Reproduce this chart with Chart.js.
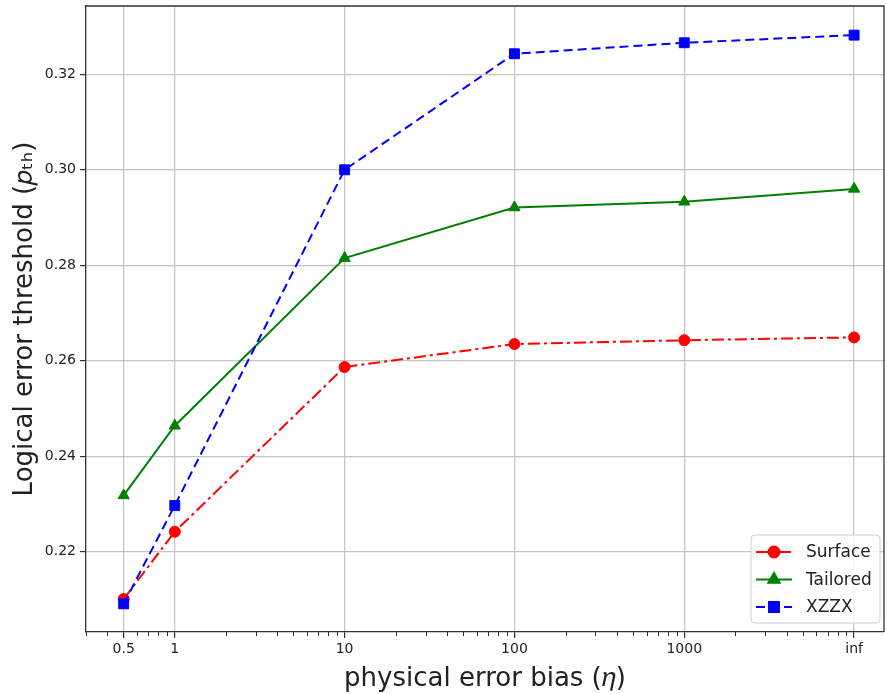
<!DOCTYPE html>
<html lang="en">
<head>
<meta charset="UTF-8" />
<title>Logical error threshold vs physical error bias</title>
<script src="https://cdn.jsdelivr.net/npm/chart.js"></script>
<style>
  body { margin: 0; background: #fff; }
  #wrap { width: 887px; height: 694px; position: relative; }
</style>
</head>
<body>
<div id="wrap"><canvas id="chart"></canvas></div>
<script>
// data
const biasLabels = ['0.5', '1', '10', '100', '1000', 'inf'];
const biasValues = [0.5, 1, 10, 100, 1000, 10000]; // "inf" is drawn one decade after 1000
const surface  = [0.2101, 0.2242, 0.2587, 0.2635, 0.2643, 0.2649];
const tailored = [0.2318, 0.2464, 0.2815, 0.2921, 0.2933, 0.2960];
const xzzx     = [0.2091, 0.2297, 0.3000, 0.3243, 0.3266, 0.3282];
const yTicks   = [0.22, 0.24, 0.26, 0.28, 0.30, 0.32];

const FONT = "'DejaVu Sans', sans-serif";
const TEXT = '#222';

function pts(vals) {
  return vals.map((v, i) => ({ x: biasValues[i], y: v }));
}

// small ticks between the decades on the log axis
const minorTicks = {
  id: 'minorTicks',
  afterDraw(chart) {
    const xs = chart.scales.x, ctx = chart.ctx;
    const y0 = chart.chartArea.bottom;
    ctx.save();
    ctx.strokeStyle = '#333';
    ctx.lineWidth = 1;
    for (let d = -1; d <= 4; d++) {
      for (let m = 2; m <= 9; m++) {
        const v = m * Math.pow(10, d);
        if (v < xs.min || v > xs.max || biasValues.includes(v)) continue;
        const px = Math.round(xs.getPixelForValue(v)) + 0.5;
        ctx.beginPath();
        ctx.moveTo(px, y0);
        ctx.lineTo(px, y0 + 4);
        ctx.stroke();
      }
    }
    ctx.restore();
  }
};

// top and right spines
const frame = {
  id: 'frame',
  afterDraw(chart) {
    const { left, right, top, bottom } = chart.chartArea;
    const ctx = chart.ctx;
    ctx.save();
    ctx.strokeStyle = '#333';
    ctx.lineWidth = 1.3;
    ctx.beginPath();
    ctx.moveTo(left, top);
    ctx.lineTo(right, top);
    ctx.lineTo(right, bottom);
    ctx.stroke();
    ctx.restore();
  }
};

// matplotlib style legend: line + marker, lower right
const legendBox = {
  id: 'legendBox',
  afterDraw(chart) {
    const ctx = chart.ctx;
    const ca = chart.chartArea;
    const w = 129, h = 88;
    const x = ca.right - 4 - w, y = ca.bottom - 9 - h;
    ctx.save();
    ctx.beginPath();
    ctx.roundRect(x, y, w, h, 4);
    ctx.fillStyle = 'rgba(255,255,255,0.85)';
    ctx.fill();
    ctx.strokeStyle = '#d0d0d0';
    ctx.lineWidth = 1;
    ctx.stroke();
    chart.data.datasets.forEach((ds, i) => {
      const ry = y + 17 + i * 27.5;
      ctx.strokeStyle = ds.borderColor;
      ctx.lineWidth = ds.borderWidth;
      ctx.setLineDash(ds.borderDash || []);
      ctx.beginPath();
      ctx.moveTo(x + 5, ry);
      ctx.lineTo(x + 41, ry);
      ctx.stroke();
      ctx.setLineDash([]);
      ctx.fillStyle = ds.backgroundColor;
      Chart.helpers.drawPoint(ctx, { pointStyle: ds.pointStyle, radius: ds.pointRadius, borderWidth: 1 }, x + 23, ry);
      ctx.fill();
      ctx.fillStyle = TEXT;
      ctx.font = '17px ' + FONT;
      ctx.textBaseline = 'middle';
      ctx.fillText(ds.label, x + 55, ry + 1);
    });
    ctx.restore();
  }
};

const isMajorX = v => biasValues.includes(v);

new Chart(document.getElementById('chart'), {
  type: 'line',
  data: {
    datasets: [
      {
        label: 'Surface', data: pts(surface), order: 3,
        borderColor: '#ff0000', backgroundColor: '#ff0000', borderWidth: 2,
        borderDash: [12, 4, 3, 4], pointStyle: 'circle', pointRadius: 5.5,
        pointBorderWidth: 1
      },
      {
        label: 'Tailored', data: pts(tailored), order: 2,
        borderColor: '#008000', backgroundColor: '#008000', borderWidth: 2,
        pointStyle: 'triangle', pointRadius: 6.5, pointBorderWidth: 1
      },
      {
        label: 'XZZX', data: pts(xzzx), order: 1,
        borderColor: '#0000ff', backgroundColor: '#0000ff', borderWidth: 2,
        borderDash: [9, 5], pointStyle: 'rect', pointRadius: 7, pointBorderWidth: 1
      }
    ]
  },
  options: {
    responsive: true,
    maintainAspectRatio: false,
    animation: false,
    layout: { autoPadding: false, padding: { top: 6, right: 3, left: 0, bottom: 0 } },
    plugins: { legend: { display: false }, tooltip: { enabled: false } },
    scales: {
      x: {
        type: 'logarithmic',
        min: 0.303,
        max: 15000,
        afterBuildTicks: s => { s.ticks = biasValues.map(v => ({ value: v })); },
        afterFit: s => { s.height = 62; s.paddingLeft = 0; s.paddingRight = 0; },
        ticks: {
          autoSkip: false, maxRotation: 0, padding: 3,
          color: TEXT, font: { family: FONT, size: 14 },
          callback: v => biasLabels[biasValues.indexOf(v)] ?? ''
        },
        grid: {
          color: ctx => (ctx.tick && isMajorX(ctx.tick.value)) ? '#c4c4c4' : 'rgba(0,0,0,0)',
          lineWidth: 1.2, tickColor: '#333', tickLength: 6
        },
        border: { display: true, color: '#333', width: 1.3 },
        title: {
          display: true, text: 'physical error bias (𝜂)', color: TEXT,
          font: { family: FONT, size: 26 }, padding: { top: 0, bottom: -1 }
        }
      },
      y: {
        min: 0.2032,
        max: 0.3343,
        afterBuildTicks: s => { s.ticks = yTicks.map(v => ({ value: v })); },
        afterFit: s => { s.width = 86; s.paddingTop = 0; s.paddingBottom = 0; },
        ticks: {
          padding: 4, color: TEXT, font: { family: FONT, size: 14 },
          callback: v => v.toFixed(2)
        },
        grid: { color: '#c4c4c4', lineWidth: 1.2, tickColor: '#333', tickLength: 6 },
        border: { display: true, color: '#333', width: 1.3 },
        title: {
          display: true, text: 'Logical error threshold (𝑝ₜₕ)', color: TEXT,
          font: { family: FONT, size: 26 }, padding: { top: 10, bottom: 0 }
        }
      }
    }
  },
  plugins: [minorTicks, frame, legendBox]
});
</script>
</body>
</html>
